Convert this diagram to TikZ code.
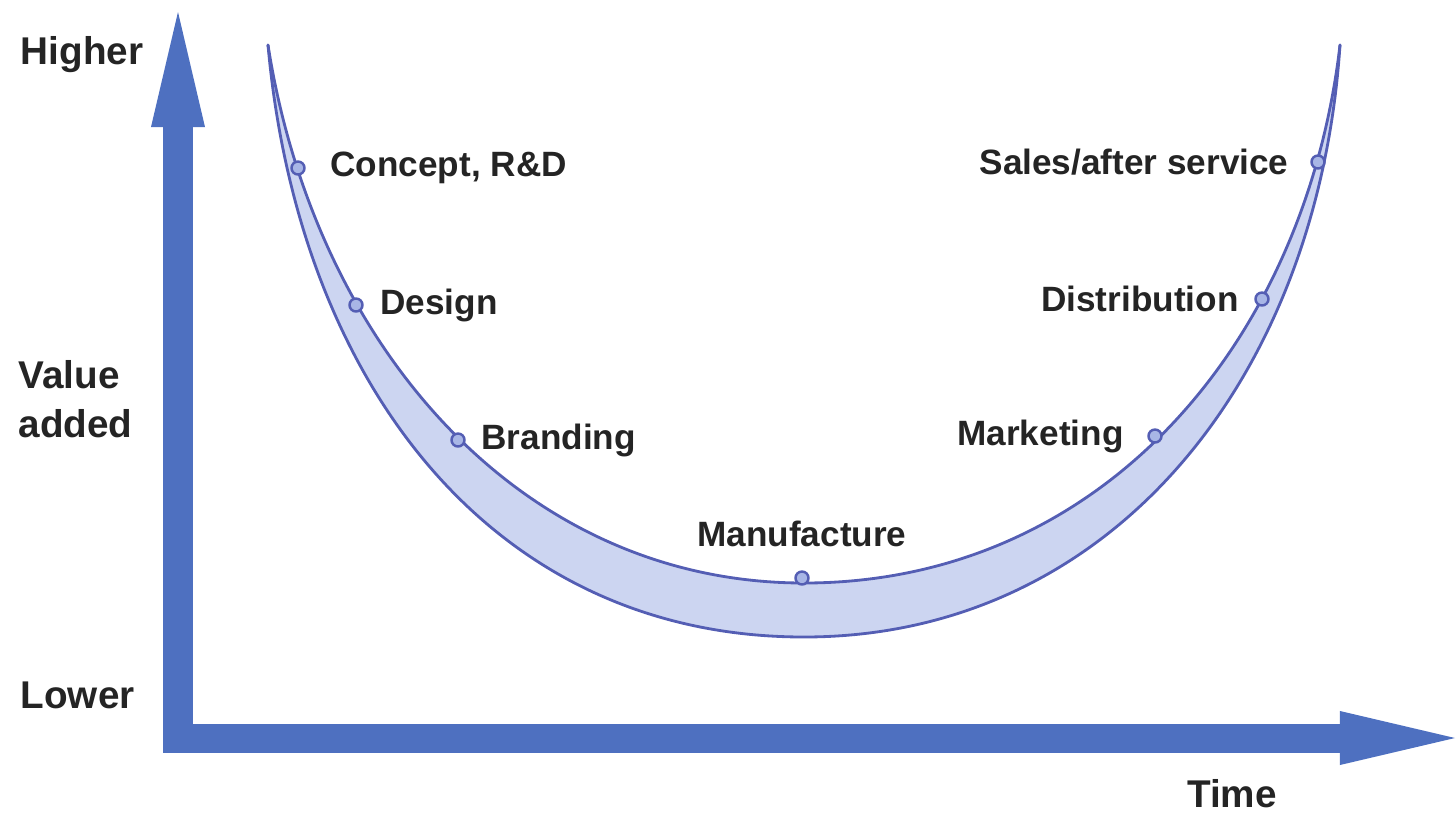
\documentclass[tikz,border=0pt]{standalone}
\usepackage{fontspec}
\setmainfont{Liberation Sans}
\usetikzlibrary{arrows.meta,positioning}
\definecolor{axisblue}{RGB}{78,112,192}
\definecolor{curveblue}{RGB}{84,94,180}
\definecolor{bandfill}{RGB}{204,213,241}
\definecolor{dotfill}{RGB}{168,182,230}
\definecolor{txtgray}{RGB}{36,36,36}

\begin{document}
\begin{tikzpicture}[line cap=round,line join=round,x=0.01cm,y=-0.01cm,
	axis/.style={draw=axisblue,line width=0.29cm,line cap=butt,-{Triangle[length=1.15cm,width=0.54cm,line width=0pt]}},
	curve/.style={draw=curveblue,line width=0.8pt},
	stage/.style={circle,draw=curveblue,fill=dotfill,line width=0.7pt,minimum size=0.13cm,inner sep=0pt},
	lbl/.style={text=txtgray,font=\fontsize{10}{12}\selectfont\bfseries,inner sep=0pt},
	axlbl/.style={text=txtgray,font=\fontsize{11}{14}\selectfont\bfseries,inner sep=0pt,align=left}]
	\useasboundingbox (0,0) rectangle (1456,814);
	% axes
	\coordinate (vbase) at (178,752);
	\coordinate (vtip) at (178,12);
	\coordinate (hbase) at (163,738);
	\coordinate (htip) at (1455,738);
	\draw[axis] (vbase) -- (vtip);
	\draw[axis] (hbase) -- (htip);
	% the smile band
	\coordinate (ltop) at (268,45);
	\coordinate (rtop) at (1340,45);
	\coordinate (inbot) at (804,583);
	\coordinate (outbot) at (804,637);
	\fill[bandfill] (ltop) .. controls (298,380) and (490,637) .. (outbot)
		.. controls (1110,637) and (1318,380) .. (rtop)
		.. controls (1305,345) and (1100,583) .. (inbot)
		.. controls (520,583) and (315,345) .. (ltop) -- cycle;
	\draw[curve] (ltop) .. controls (298,380) and (490,637) .. (outbot)
		.. controls (1110,637) and (1318,380) .. (rtop);
	\draw[curve] (ltop) .. controls (315,345) and (520,583) .. (inbot)
		.. controls (1100,583) and (1305,345) .. (rtop);
	% stages
	\node[stage] (concept) at (298,168) {};
	\node[stage] (design) at (356,305) {};
	\node[stage] (branding) at (458,440) {};
	\node[stage] (manufacture) at (802,578) {};
	\node[stage] (marketing) at (1155,436) {};
	\node[stage] (distribution) at (1262,299) {};
	\node[stage] (sales) at (1318,162) {};
	\node[lbl,right=0.24cm of concept] {Concept, R\&D};
	\node[lbl,right=0.16cm of design] {Design};
	\node[lbl,right=0.15cm of branding] {Branding};
	\node[lbl,above=0.23cm of manufacture] {Manufacture};
	\node[lbl,left=0.23cm of marketing] {Marketing};
	\node[lbl,left=0.15cm of distribution] {Distribution};
	\node[lbl,left=0.21cm of sales] {Sales/after service};
	% axis labels
	\node[axlbl,anchor=west] (higher) at (20,55) {Higher};
	\node[axlbl,anchor=west] (value) at (18,399) {Value\\added};
	\node[axlbl,anchor=west] (lower) at (20,695) {Lower};
	\node[axlbl] (time) at (1232,794) {Time};
\end{tikzpicture}
\end{document}
